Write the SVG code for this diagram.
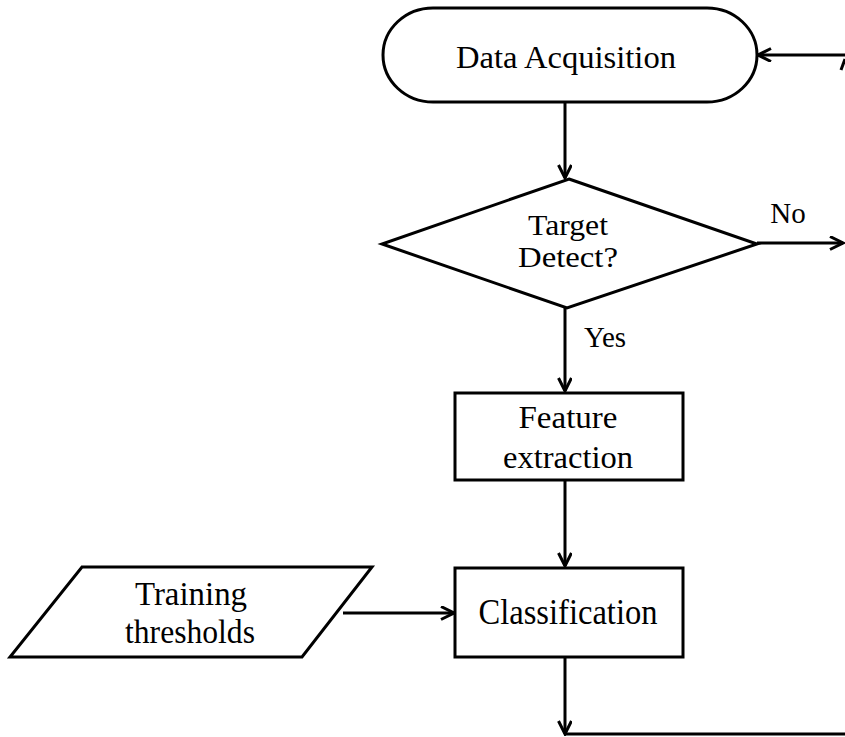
<svg xmlns="http://www.w3.org/2000/svg" width="845" height="737" viewBox="0 0 845 737">
<style>
.s{fill:#fff;stroke:#000;stroke-width:3}
.t{font-family:"Liberation Serif","Times New Roman",serif;font-size:32px;fill:#000;text-anchor:middle}
.l{font-family:"Liberation Serif","Times New Roman",serif;font-size:29px;fill:#000;text-anchor:middle}
.c{fill:none;stroke:#000;stroke-width:3}
</style>
<defs>
<marker id="a" markerWidth="16" markerHeight="16" refX="14" refY="7" orient="auto" markerUnits="userSpaceOnUse">
<path d="M1,0.5 L14,7 L1,13.5" fill="none" stroke="#000" stroke-width="3"/>
</marker>
</defs>
<rect width="845" height="737" fill="#fff"/>
<g id="connectors">
<line class="c" x1="565" y1="102" x2="565" y2="178" marker-end="url(#a)"/>
<line class="c" x1="565" y1="308" x2="565" y2="391" marker-end="url(#a)"/>
<line class="c" x1="565" y1="480" x2="565" y2="566" marker-end="url(#a)"/>
<line class="c" x1="343" y1="613" x2="454" y2="613" marker-end="url(#a)"/>
<line class="c" x1="565" y1="657" x2="565" y2="734" marker-end="url(#a)"/>
<line class="c" x1="565" y1="734" x2="845" y2="734"/>
<line class="c" x1="757" y1="243" x2="843" y2="243" marker-end="url(#a)"/>
<line class="c" x1="845" y1="55" x2="758" y2="55" marker-end="url(#a)"/>
<line class="c" x1="841" y1="70" x2="845" y2="59"/>
<text class="l" x="788" y="223">No</text>
<text class="l" x="605" y="347">Yes</text>
</g>
<g id="data-acquisition">
<rect class="s" x="383" y="8" width="374" height="94" rx="50" ry="47"/>
<text class="t" x="566" y="68" textLength="220" lengthAdjust="spacingAndGlyphs">Data Acquisition</text>
</g>
<g id="target-detect">
<polygon class="s" points="569,179 757,244 567,308 382,244"/>
<text class="t" x="568" y="235" style="font-size:29px" textLength="80" lengthAdjust="spacingAndGlyphs">Target</text>
<text class="t" x="568" y="267" style="font-size:29px" textLength="100" lengthAdjust="spacingAndGlyphs">Detect?</text>
</g>
<g id="feature-extraction">
<rect class="s" x="455" y="393" width="228" height="87"/>
<text class="t" x="568" y="428" textLength="99" lengthAdjust="spacingAndGlyphs">Feature</text>
<text class="t" x="568" y="468" textLength="130" lengthAdjust="spacingAndGlyphs">extraction</text>
</g>
<g id="classification">
<rect class="s" x="455" y="568" width="228" height="89"/>
<text class="t" x="568" y="624" style="font-size:35px" textLength="179" lengthAdjust="spacingAndGlyphs">Classification</text>
</g>
<g id="training-thresholds">
<polygon class="s" points="82,567 372,567 302,657 10,657"/>
<text class="t" x="191" y="605" style="font-size:34px" textLength="112" lengthAdjust="spacingAndGlyphs">Training</text>
<text class="t" x="190" y="643" style="font-size:34px" textLength="130" lengthAdjust="spacingAndGlyphs">thresholds</text>
</g>
</svg>
